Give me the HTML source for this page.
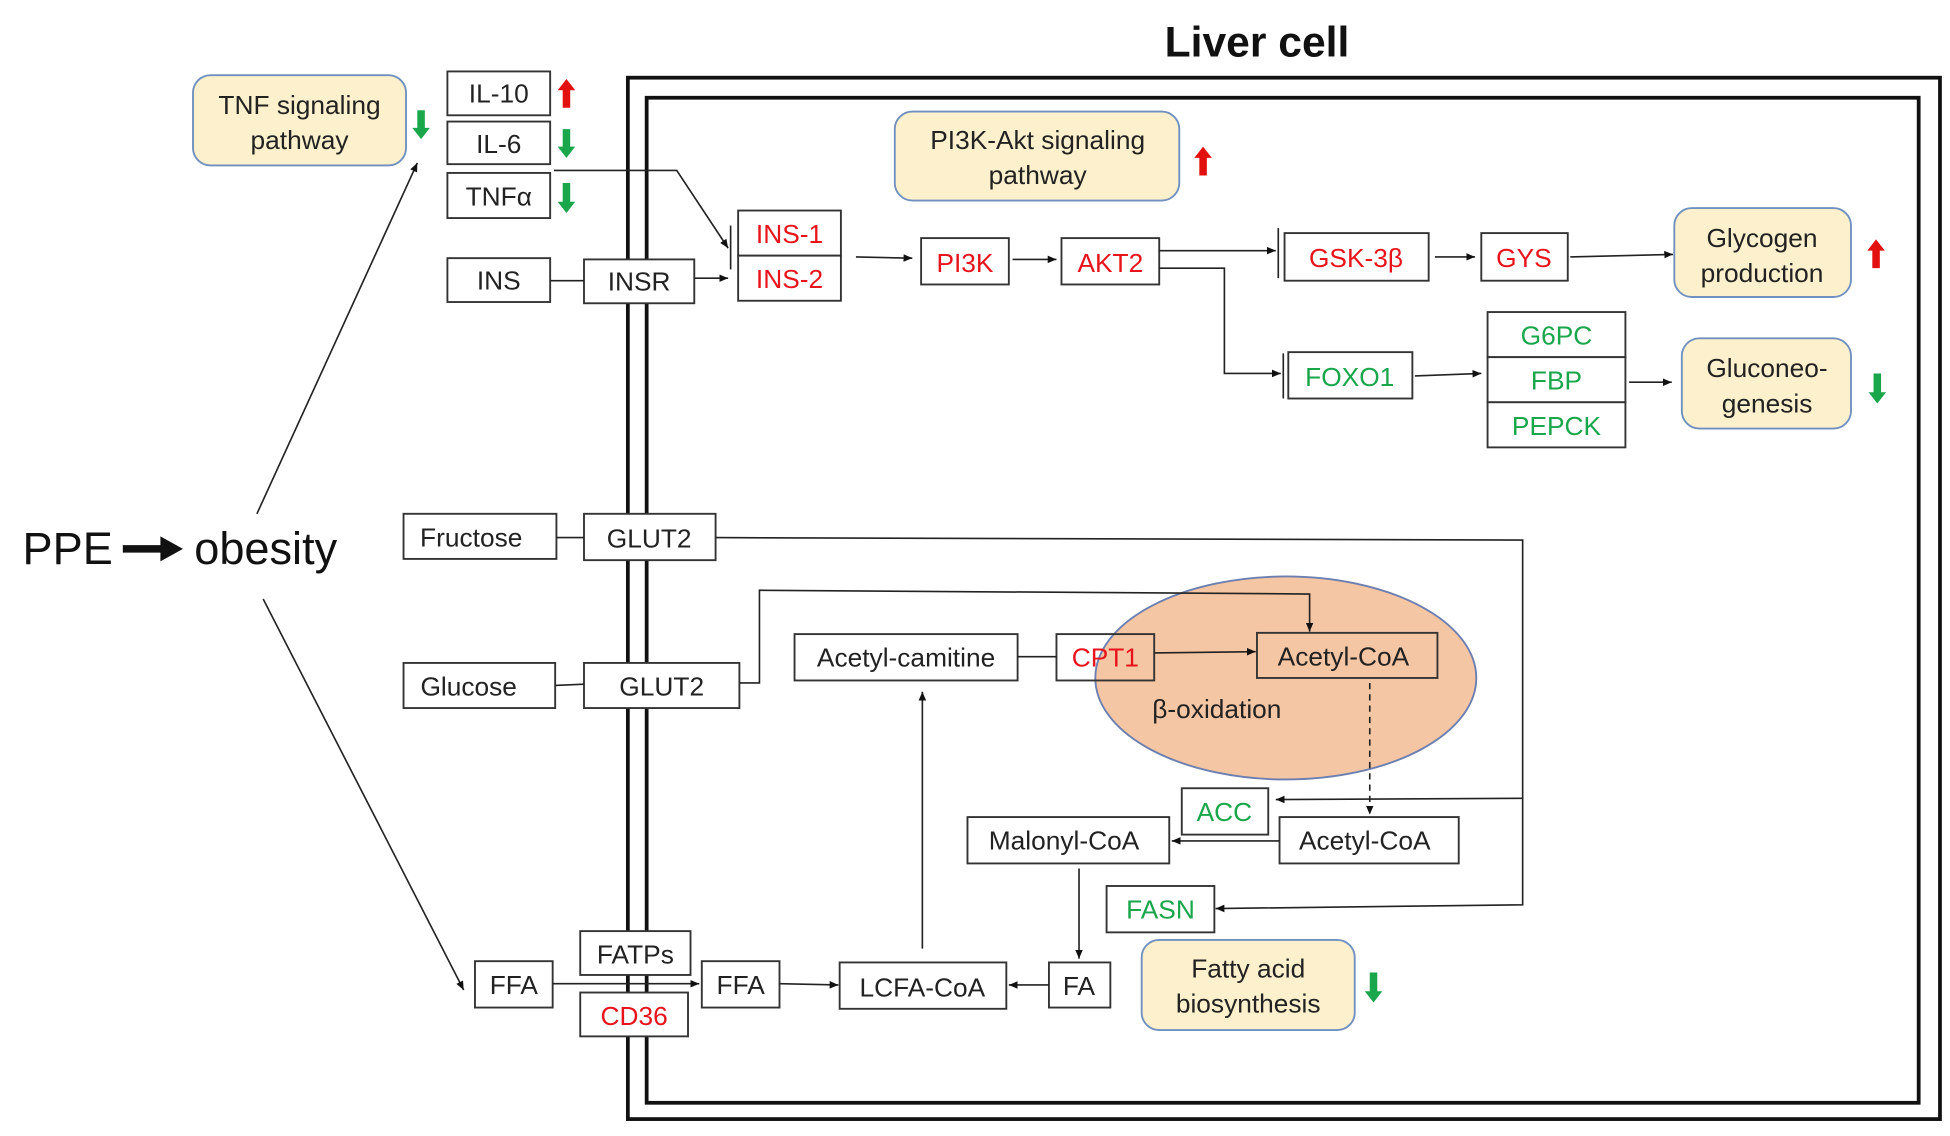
<!DOCTYPE html>
<html><head><meta charset="utf-8"><style>
html,body{margin:0;padding:0;background:#fff;}
svg{display:block;}
text{font-family:"Liberation Sans",sans-serif;}
</style></head><body>
<svg width="1950" height="1136" viewBox="0 0 1556 906.5" preserveAspectRatio="none" xmlns="http://www.w3.org/2000/svg">
<defs>
<marker id="a" markerWidth="8" markerHeight="8" refX="7" refY="4" orient="auto" markerUnits="userSpaceOnUse"><path d="M0,1 L7,4 L0,7 z" fill="#111"/></marker>
</defs>
<g font-size="21" text-anchor="middle" fill="#111">
<text x="1003" y="45" font-size="34" font-weight="bold">Liver cell</text>
</g>
<rect x="501" y="62" width="1047" height="831" fill="none" stroke="#111" stroke-width="3"/>
<rect x="516" y="78" width="1015" height="802" fill="none" stroke="#111" stroke-width="3"/>

<!-- ellipse -->
<ellipse cx="1026" cy="541" rx="152" ry="81" fill="#f5c6a4" stroke="#6c7fb0" stroke-width="1.5"/>

<g fill="#fdf0cc" stroke="#7090c0" stroke-width="1.5">
<rect x="154" y="60" width="170" height="72" rx="14"/>
<rect x="714" y="89" width="227" height="71" rx="14"/>
<rect x="1336" y="166" width="141" height="71" rx="14"/>
<rect x="1342" y="270" width="135" height="72" rx="14"/>
<rect x="911" y="750" width="170" height="72" rx="14"/>
</g>

<g fill="#fff" stroke="#333" stroke-width="1.5">
<rect x="357" y="57" width="82" height="35"/>
<rect x="357" y="97" width="82" height="34"/>
<rect x="357" y="138" width="82" height="36"/>
<rect x="357" y="206" width="82" height="35"/>
<rect x="466" y="207" width="88" height="35"/>
<rect x="589" y="168" width="82" height="36"/>
<rect x="589" y="204" width="82" height="36"/>
<rect x="735" y="190" width="70" height="37"/>
<rect x="847" y="190" width="78" height="37"/>
<rect x="1025" y="186" width="115" height="38"/>
<rect x="1182" y="186" width="69" height="38"/>
<rect x="1028" y="281" width="99" height="37"/>
<rect x="1187" y="249" width="110" height="36"/>
<rect x="1187" y="285" width="110" height="36"/>
<rect x="1187" y="321" width="110" height="36"/>
<rect x="322" y="410" width="122" height="36"/>
<rect x="466" y="410" width="105" height="37"/>
<rect x="322" y="529" width="121" height="36"/>
<rect x="466" y="529" width="124" height="36"/>
<rect x="634" y="506" width="178" height="37"/>
<rect x="1021" y="652" width="143" height="37"/>
<rect x="943" y="629" width="69" height="37"/>
<rect x="772" y="652" width="161" height="37"/>
<rect x="883" y="707" width="86" height="37"/>
<rect x="837" y="768" width="49" height="36"/>
<rect x="670" y="768" width="133" height="37"/>
<rect x="379" y="767" width="62" height="37"/>
<rect x="463" y="743" width="88" height="35"/>
<rect x="463" y="792" width="86" height="35"/>
<rect x="560" y="767" width="62" height="37"/>
</g>
<rect x="843" y="506" width="78" height="37" fill="none" stroke="#333" stroke-width="1.5"/>
<rect x="1003" y="505" width="144" height="36" fill="none" stroke="#333" stroke-width="1.5"/>

<!-- connectors -->
<g stroke="#222" stroke-width="1.3" fill="none">
<polyline points="442,136 540,136 581,198" marker-end="url(#a)"/>
<line x1="583" y1="180" x2="583" y2="215"/>
<line x1="439" y1="224" x2="466" y2="224"/>
<line x1="554" y1="222" x2="581" y2="222" marker-end="url(#a)"/>
<line x1="683" y1="205" x2="728" y2="206" marker-end="url(#a)"/>
<line x1="808" y1="207" x2="843" y2="207" marker-end="url(#a)"/>
<line x1="925" y1="200" x2="1018" y2="200" marker-end="url(#a)"/>
<line x1="1020" y1="182" x2="1020" y2="222"/>
<polyline points="925,214 977,214 977,298 1022,298" marker-end="url(#a)"/>
<line x1="1024" y1="282" x2="1024" y2="318"/>
<line x1="1145" y1="205" x2="1177" y2="205" marker-end="url(#a)"/>
<line x1="1253" y1="205" x2="1335" y2="203" marker-end="url(#a)"/>
<line x1="1129" y1="300" x2="1182" y2="298" marker-end="url(#a)"/>
<line x1="1300" y1="305" x2="1334" y2="305" marker-end="url(#a)"/>
<line x1="205" y1="410" x2="333" y2="130" marker-end="url(#a)"/>
<line x1="210" y1="478" x2="370" y2="790" marker-end="url(#a)"/>
<line x1="444" y1="429" x2="466" y2="429"/>
<polyline points="571,429 1215,431 1215,722 970,725" marker-end="url(#a)"/>
<line x1="1215" y1="637" x2="1018" y2="638" marker-end="url(#a)"/>
<line x1="443" y1="547" x2="466" y2="546"/>
<polyline points="590,545 606,545 606,471 1045,474 1045,504" marker-end="url(#a)"/>
<line x1="812" y1="524" x2="843" y2="524"/>
<line x1="921" y1="521" x2="1002" y2="520" marker-end="url(#a)"/>
<line x1="1093" y1="545" x2="1093" y2="650" stroke-dasharray="5,4" marker-end="url(#a)"/>
<line x1="1021" y1="671" x2="935" y2="671" marker-end="url(#a)"/>
<line x1="861" y1="693" x2="861" y2="765" marker-end="url(#a)"/>
<line x1="837" y1="786" x2="805" y2="786" marker-end="url(#a)"/>
<line x1="736" y1="757" x2="736" y2="552" marker-end="url(#a)"/>
<line x1="441" y1="785" x2="558" y2="785" marker-end="url(#a)"/>
<line x1="622" y1="785" x2="669" y2="786" marker-end="url(#a)"/>
</g>
<!-- PPE arrow -->
<line x1="98" y1="438" x2="130" y2="438" stroke="#111" stroke-width="6"/>
<path d="M128,428 L146,438 L128,448 z" fill="#111"/>

<!-- up/down arrows -->
<g>
<path d="M449,86 h6 v-14 h4 l-7,-9 l-7,9 h4 z" fill="#e31010"/>
<path d="M957,140 h6 v-14 h4 l-7,-9 l-7,9 h4 z" fill="#e31010"/>
<path d="M1494,214 h6 v-14 h4 l-7,-9 l-7,9 h4 z" fill="#e31010"/>
<path d="M333,88 h6 v14 h4 l-7,9 l-7,-9 h4 z" fill="#1aa64a"/>
<path d="M449,103 h6 v14 h4 l-7,9 l-7,-9 h4 z" fill="#1aa64a"/>
<path d="M449,146 h6 v15 h4 l-7,9 l-7,-9 h4 z" fill="#1aa64a"/>
<path d="M1495,298 h6 v15 h4 l-7,9 l-7,-9 h4 z" fill="#1aa64a"/>
<path d="M1093,776 h6 v15 h4 l-7,9 l-7,-9 h4 z" fill="#1aa64a"/>
</g>

<g font-size="21" text-anchor="middle" fill="#222">
<text x="239" y="91">TNF signaling</text>
<text x="239" y="119">pathway</text>
<text x="828" y="119">PI3K-Akt signaling</text>
<text x="828" y="147">pathway</text>
<text x="1406" y="197">Glycogen</text>
<text x="1406" y="225">production</text>
<text x="1410" y="301">Gluconeo-</text>
<text x="1410" y="329">genesis</text>
<text x="996" y="780">Fatty acid</text>
<text x="996" y="808">biosynthesis</text>
<text x="398" y="82">IL-10</text>
<text x="398" y="122">IL-6</text>
<text x="398" y="164">TNFα</text>
<text x="398" y="231">INS</text>
<text x="510" y="232">INSR</text>
<text x="376" y="436">Fructose</text>
<text x="518" y="437">GLUT2</text>
<text x="374" y="555">Glucose</text>
<text x="528" y="555">GLUT2</text>
<text x="723" y="532">Acetyl-camitine</text>
<text x="1072" y="531">Acetyl-CoA</text>
<text x="1089" y="678">Acetyl-CoA</text>
<text x="849" y="678">Malonyl-CoA</text>
<text x="861" y="794">FA</text>
<text x="736" y="795">LCFA-CoA</text>
<text x="410" y="793">FFA</text>
<text x="507" y="769">FATPs</text>
<text x="591" y="793">FFA</text>
<text x="971" y="573">β-oxidation</text>
</g>
<g font-size="21" text-anchor="middle" fill="#e8141c">
<text x="630" y="194">INS-1</text>
<text x="630" y="230">INS-2</text>
<text x="770" y="217">PI3K</text>
<text x="886" y="217">AKT2</text>
<text x="1082" y="213">GSK-3β</text>
<text x="1216" y="213">GYS</text>
<text x="882" y="532">CPT1</text>
<text x="506" y="818">CD36</text>
</g>
<g font-size="21" text-anchor="middle" fill="#1aa64a">
<text x="1077" y="308">FOXO1</text>
<text x="1242" y="275">G6PC</text>
<text x="1242" y="311">FBP</text>
<text x="1242" y="347">PEPCK</text>
<text x="977" y="655">ACC</text>
<text x="926" y="733">FASN</text>
</g>
<text x="18" y="450" font-size="36" fill="#111">PPE</text>
<text x="155" y="450" font-size="36" fill="#111">obesity</text>
</svg>
</body></html>
